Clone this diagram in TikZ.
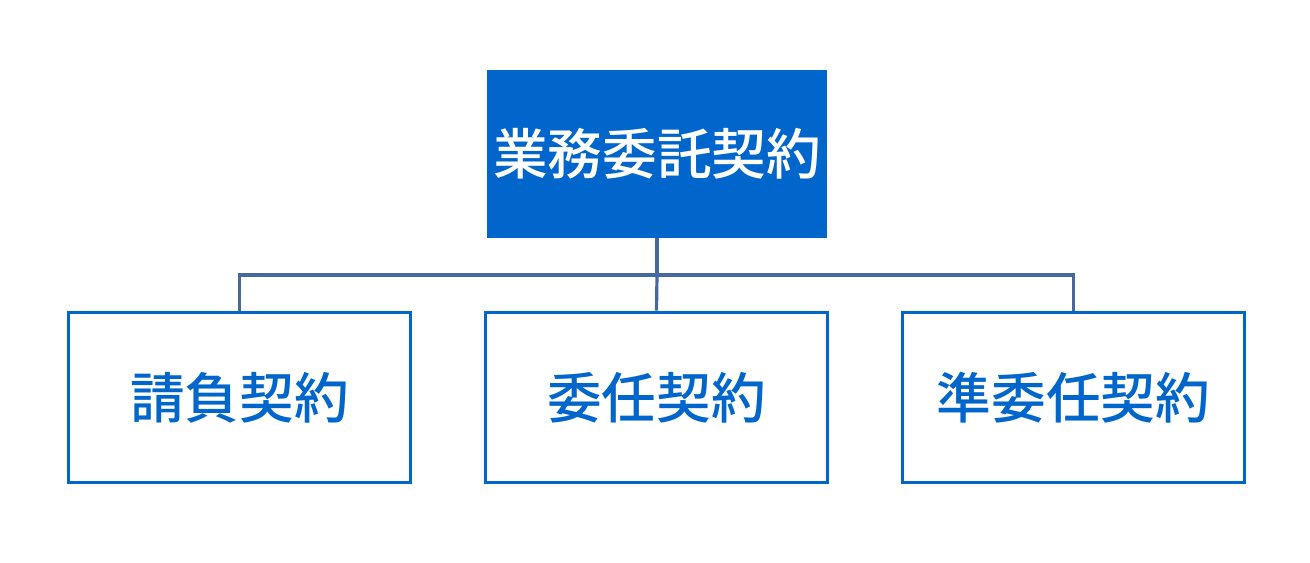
\documentclass[tikz,border=0pt]{standalone}
\usepackage{fontspec}
\newfontfamily\cjk{Noto Sans CJK JP Medium}
\definecolor{boxblue}{HTML}{0066CC}
\definecolor{linecol}{HTML}{46689A}
\begin{document}
\begin{tikzpicture}[x=0.75pt,y=-0.75pt,
  top/.style={draw=none,fill=boxblue,minimum width=255pt,minimum height=126pt,text=white,font=\cjk\fontsize{41}{48}\selectfont,inner sep=0pt},
  sub/.style={draw=boxblue,line width=2.2pt,fill=white,minimum width=257pt,minimum height=128pt,text=boxblue,font=\cjk\fontsize{41}{48}\selectfont,inner sep=0pt},
  conn/.style={draw=linecol,line width=2.4pt}]
\useasboundingbox (0,0) rectangle (1310,562);
\node[top] (root) at (657,154) {業務委託契約};
\node[sub] (a) at (239.5,397.5) {請負契約};
\node[sub] (b) at (656.5,397.5) {委任契約};
\node[sub] (c) at (1073.5,397.5) {準委任契約};
\coordinate (j) at (657,275);
\draw[conn] (root.south) -- (j);
\draw[conn] (j) -| (a.north);
\draw[conn] (j) -- (b.north);
\draw[conn] (j) -| (c.north);
\end{tikzpicture}
\end{document}
